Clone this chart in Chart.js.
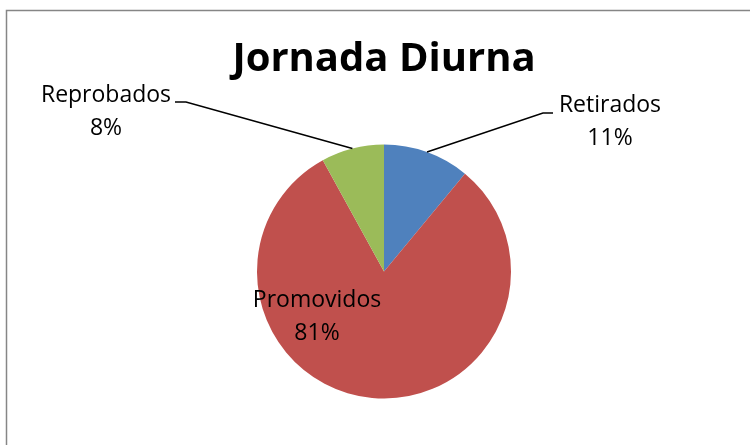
<!DOCTYPE html>
<html>
<head>
<meta charset="utf-8">
<script src="https://cdn.jsdelivr.net/npm/chart.js@4.4.1/dist/chart.umd.min.js"></script>
<style>
  html, body { margin: 0; padding: 0; background: #fff; }
  #wrap { width: 750px; height: 445px; position: relative; }
</style>
</head>
<body>
<div id="wrap"><canvas id="chart" width="750" height="445"></canvas></div>
<script>
const categories = ['Retirados', 'Promovidos', 'Reprobados'];
const percents = [11, 81, 8];
const sliceColors = ['#4F81BD', '#C0504D', '#9BBB59'];
const chartTitle = 'Jornada Diurna';

const FONT = '"Open Sans", Carlito, Calibri, sans-serif';

// where each data label sits (text centre) and where its leader line bends
const labelPlaces = [
    { x: 610, y: 105, leader: true, stub: [553, 113, 543] },
    { x: 317, y: 300, leader: false },
    { x: 106, y: 95, leader: true, stub: [175, 102, 186] }
];

const pieExtras = {
    id: 'pieExtras',
    beforeDraw(chart) {
        const c = chart.ctx;
        c.save();
        c.fillStyle = '#fff';
        c.fillRect(0, 0, chart.width, chart.height);
        c.strokeStyle = '#868686';
        c.lineWidth = 1.5;
        c.strokeRect(6.5, 10.5, 760, 460);
        c.restore();
    },
    afterDraw(chart) {
        const c = chart.ctx;
        const arcs = chart.getDatasetMeta(0).data;
        c.save();

        // title
        c.fillStyle = '#000';
        c.font = 'bold 40px ' + FONT;
        c.textAlign = 'center';
        c.textBaseline = 'middle';
        c.fillText(chartTitle, 384, 60);

        arcs.forEach((arc, i) => {
            const p = labelPlaces[i];
            const a = arc.getProps(['x', 'y', 'startAngle', 'endAngle', 'outerRadius'], true);
            if (p.leader) {
                const mid = (a.startAngle + a.endAngle) / 2;
                const ex = a.x + Math.cos(mid) * a.outerRadius;
                const ey = a.y + Math.sin(mid) * a.outerRadius;
                c.strokeStyle = '#000';
                c.lineWidth = 1.5;
                c.beginPath();
                c.moveTo(p.stub[0], p.stub[1]);
                c.lineTo(p.stub[2], p.stub[1]);
                c.lineTo(ex, ey);
                c.stroke();
            }
            c.fillStyle = '#000';
            c.font = '23px ' + FONT;
            c.textAlign = 'center';
            c.textBaseline = 'middle';
            c.fillText(categories[i], p.x, p.y);
            c.fillText(percents[i] + '%', p.x, p.y + 33);
        });
        c.restore();
    }
};

new Chart(document.getElementById('chart'), {
    type: 'pie',
    data: {
        labels: categories,
        datasets: [{
            data: percents,
            backgroundColor: sliceColors,
            borderWidth: 0
        }]
    },
    options: {
        responsive: false,
        animation: false,
        layout: { padding: { top: 144, bottom: 46, left: 257, right: 239 } },
        plugins: {
            legend: { display: false },
            tooltip: { enabled: false },
            title: { display: false }
        }
    },
    plugins: [pieExtras]
});
</script>
</body>
</html>
